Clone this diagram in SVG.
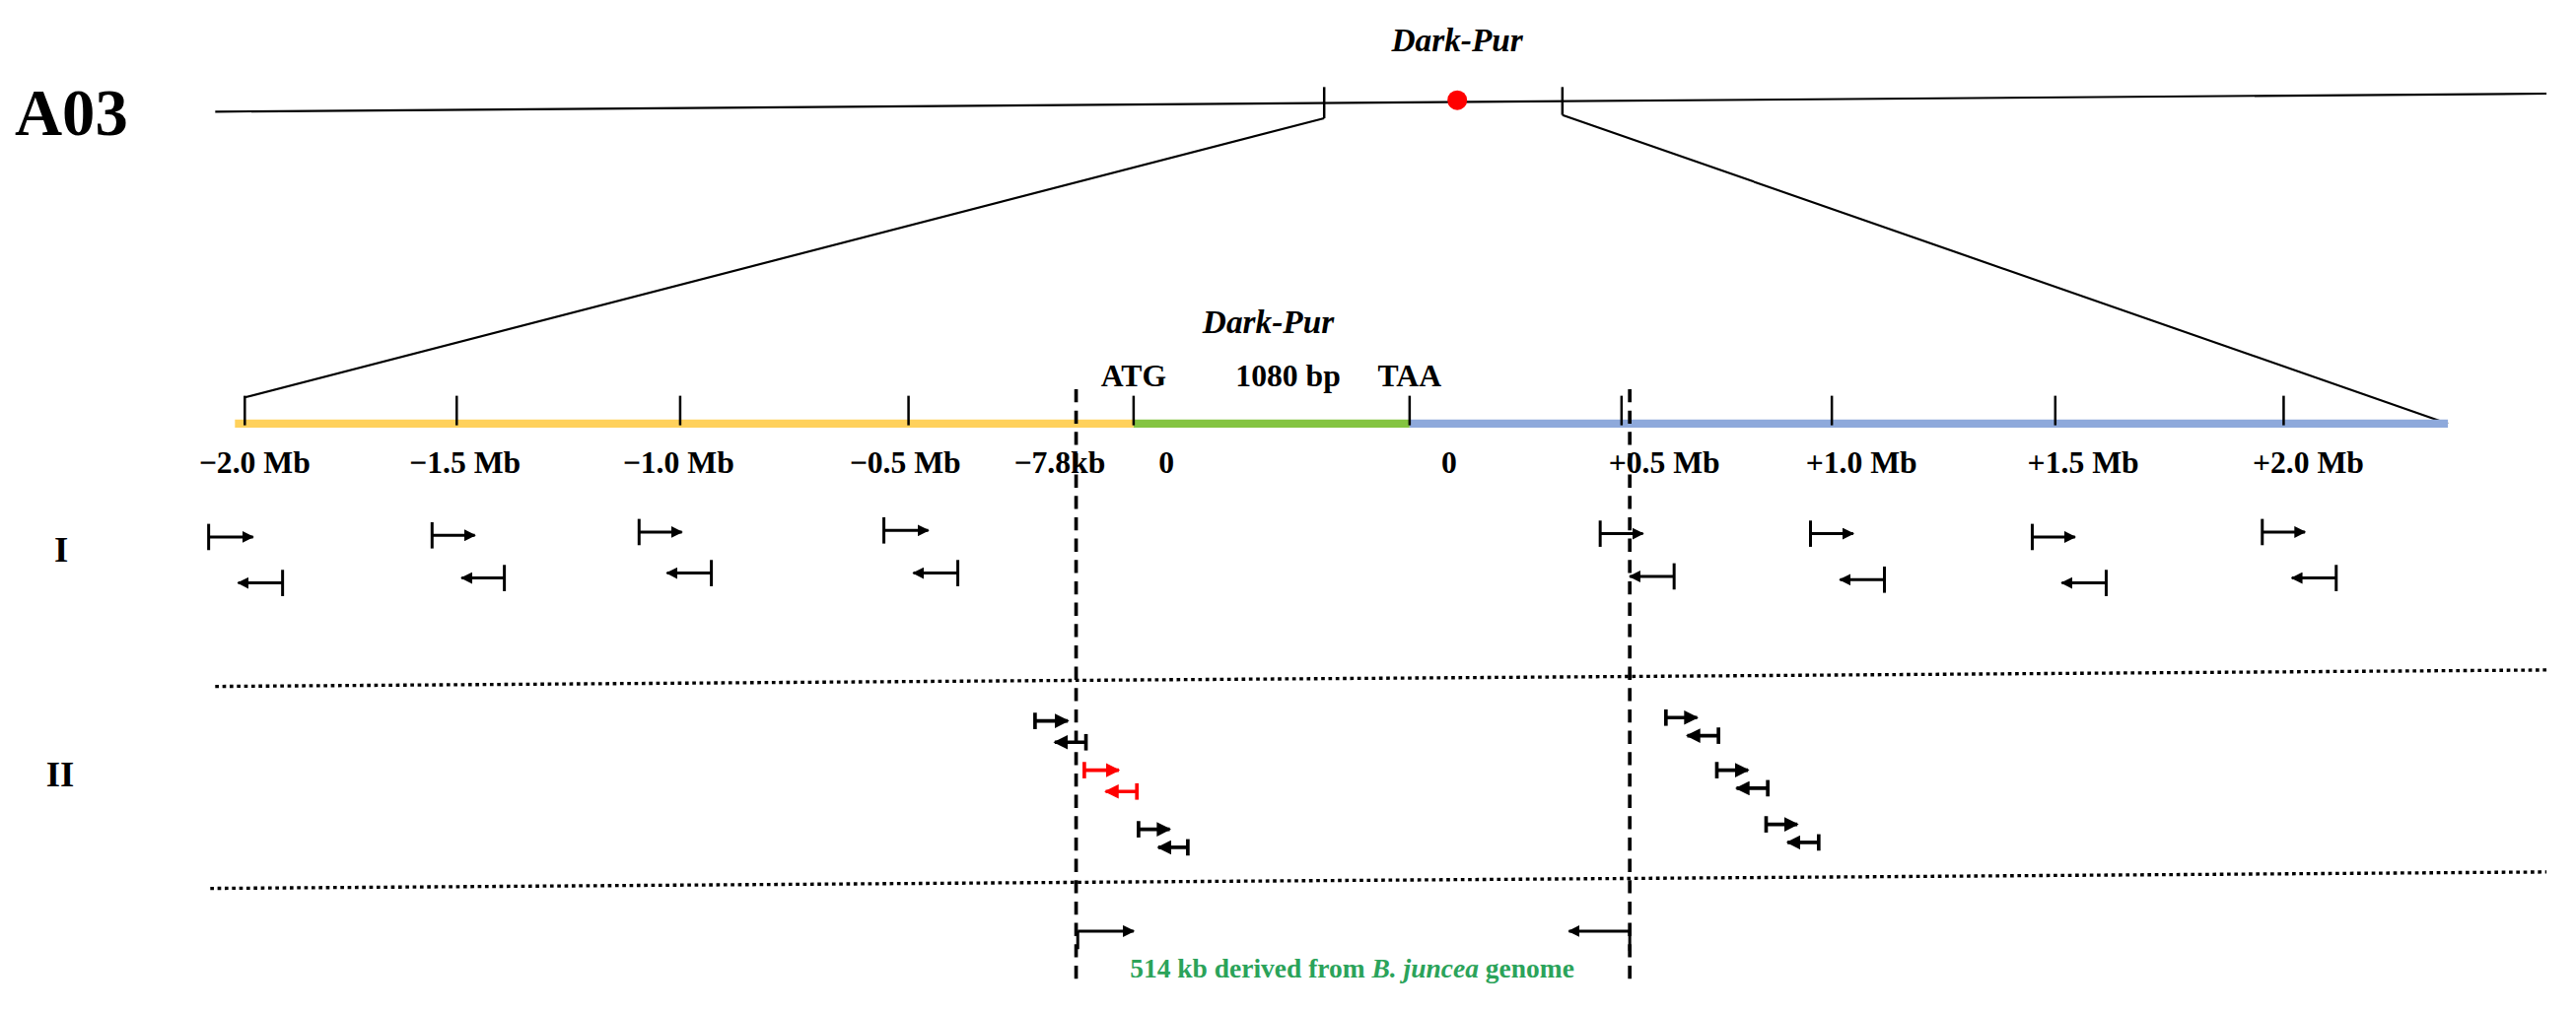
<svg xmlns="http://www.w3.org/2000/svg" width="2613" height="1026" viewBox="0 0 2613 1026">
<defs>
<marker id="ah" viewBox="0 0 10 10" refX="9" refY="5" markerWidth="4" markerHeight="4" markerUnits="strokeWidth" orient="auto"><path d="M0,0 L10,5 L0,10 z" fill="#000"/></marker>
<marker id="ahs" viewBox="0 0 10 10" refX="9" refY="5" markerWidth="4" markerHeight="4" markerUnits="strokeWidth" orient="auto"><path d="M0,0 L10,5 L0,10 z" fill="#000"/></marker>
<marker id="ahr" viewBox="0 0 10 10" refX="9" refY="5" markerWidth="4" markerHeight="4" markerUnits="strokeWidth" orient="auto"><path d="M0,0 L10,5 L0,10 z" fill="#f00"/></marker>
</defs>
<style>
text{font-family:"Liberation Serif","Times New Roman",serif;font-weight:bold;fill:#000}
.lbl{font-size:19px;text-anchor:middle}
.ln{stroke:#000;stroke-width:1.3;fill:none}
.bl{stroke:#000;stroke-width:1.8;fill:none}
.tk{stroke:#000;stroke-width:1.5}
.dash{stroke:#000;stroke-width:2.2;stroke-dasharray:8 5}
.dot{stroke:#000;stroke-width:2;stroke-dasharray:2.2 2.2}
.p{stroke:#000;stroke-width:1.8;fill:none}
.pa{stroke:#000;stroke-width:1.8;marker-end:url(#ah)}
.s{stroke:#000;stroke-width:2.2;fill:none}
.sa{stroke:#000;stroke-width:2.2;marker-end:url(#ahs)}
.r{stroke:#f00;stroke-width:2.2;fill:none}
.ra{stroke:#f00;stroke-width:2.2;marker-end:url(#ahr)}
</style>
<rect width="2613" height="1026" fill="#fff"/>
<g transform="scale(1.6665)">
<g id="chromosome">
<text x="9" y="82" style="font-size:40px">A03</text>
<line class="ln" x1="131" y1="68" x2="1550" y2="57"/>
<line class="tk" x1="806" y1="53" x2="806" y2="72"/>
<line class="tk" x1="951" y1="53" x2="951" y2="70"/>
<circle cx="887" cy="61" r="6" fill="#f00"/>
<text x="887" y="31" class="lbl" style="font-size:20px;font-style:italic">Dark-Pur</text>
</g>
<g id="zoom-lines">
<line class="ln" x1="806" y1="72" x2="149" y2="242"/>
<line class="ln" x1="951" y1="70" x2="1490" y2="258"/>
</g>
<g id="scale-bar">
<line x1="143" y1="258" x2="690" y2="258" stroke="#FFD15C" stroke-width="5"/>
<line x1="690" y1="258" x2="858" y2="258" stroke="#84C441" stroke-width="5"/>
<line x1="858" y1="258" x2="1490" y2="258" stroke="#8EA9DB" stroke-width="5"/>
<g class="tk">
<line x1="149" y1="241" x2="149" y2="259"/><line x1="278" y1="241" x2="278" y2="259"/>
<line x1="414" y1="241" x2="414" y2="259"/><line x1="553" y1="241" x2="553" y2="259"/>
<line x1="690" y1="241" x2="690" y2="259"/><line x1="858" y1="241" x2="858" y2="259"/>
<line x1="987" y1="241" x2="987" y2="259"/><line x1="1115" y1="241" x2="1115" y2="259"/>
<line x1="1251" y1="241" x2="1251" y2="259"/><line x1="1390" y1="241" x2="1390" y2="259"/>
</g>
<text x="772" y="203" class="lbl" style="font-size:20px;font-style:italic">Dark-Pur</text>
<text x="690" y="235" class="lbl">ATG</text>
<text x="784" y="235" class="lbl">1080 bp</text>
<text x="858" y="235" class="lbl">TAA</text>
<text x="155" y="288" class="lbl">−2.0 Mb</text>
<text x="283" y="288" class="lbl">−1.5 Mb</text>
<text x="413" y="288" class="lbl">−1.0 Mb</text>
<text x="551" y="288" class="lbl">−0.5 Mb</text>
<text x="645" y="288" class="lbl">−7.8kb</text>
<text x="710" y="288" class="lbl">0</text>
<text x="882" y="288" class="lbl">0</text>
<text x="1013" y="288" class="lbl">+0.5 Mb</text>
<text x="1133" y="288" class="lbl">+1.0 Mb</text>
<text x="1268" y="288" class="lbl">+1.5 Mb</text>
<text x="1405" y="288" class="lbl">+2.0 Mb</text>
</g>
<g id="row-labels">
<text x="33" y="342" style="font-size:22px">I</text>
<text x="28" y="479" style="font-size:22px">II</text>
</g>
<g id="connectors">
<line class="dash" x1="655" y1="237" x2="655" y2="600"/>
<line class="dash" x1="992" y1="237" x2="992" y2="600"/>
<line class="dot" x1="131" y1="418" x2="1550" y2="408"/>
<line class="dot" x1="128" y1="541" x2="1550" y2="531"/>
</g>
<g id="primers-I">
<path class="p" d="M127,319v16"/><line class="pa" x1="127" y1="327" x2="154" y2="327"/>
<path class="p" d="M172,347v16"/><line class="pa" x1="172" y1="355" x2="145" y2="355"/>
<path class="p" d="M263,318v16"/><line class="pa" x1="263" y1="326" x2="289" y2="326"/>
<path class="p" d="M307,344v16"/><line class="pa" x1="307" y1="352" x2="281" y2="352"/>
<path class="p" d="M389,316v16"/><line class="pa" x1="389" y1="324" x2="415" y2="324"/>
<path class="p" d="M433,341v16"/><line class="pa" x1="433" y1="349" x2="406" y2="349"/>
<path class="p" d="M538,315v16"/><line class="pa" x1="538" y1="323" x2="565" y2="323"/>
<path class="p" d="M583,341v16"/><line class="pa" x1="583" y1="349" x2="556" y2="349"/>
<path class="p" d="M974,317v16"/><line class="pa" x1="974" y1="325" x2="1000" y2="325"/>
<path class="p" d="M1019,343v16"/><line class="pa" x1="1019" y1="351" x2="992" y2="351"/>
<path class="p" d="M1102,317v16"/><line class="pa" x1="1102" y1="325" x2="1128" y2="325"/>
<path class="p" d="M1147,345v16"/><line class="pa" x1="1147" y1="353" x2="1120" y2="353"/>
<path class="p" d="M1237,319v16"/><line class="pa" x1="1237" y1="327" x2="1263" y2="327"/>
<path class="p" d="M1282,347v16"/><line class="pa" x1="1282" y1="355" x2="1255" y2="355"/>
<path class="p" d="M1377,316v16"/><line class="pa" x1="1377" y1="324" x2="1403" y2="324"/>
<path class="p" d="M1422,344v16"/><line class="pa" x1="1422" y1="352" x2="1395" y2="352"/>
</g>
<g id="primers-II">
<path class="s" d="M630,434v10"/><line class="sa" x1="630" y1="439" x2="650" y2="439"/>
<path class="s" d="M661,447v10"/><line class="sa" x1="661" y1="452" x2="642" y2="452"/>
<path class="r" d="M660,464v10"/><line class="ra" x1="660" y1="469" x2="681" y2="469"/>
<path class="r" d="M692,477v10"/><line class="ra" x1="692" y1="482" x2="673" y2="482"/>
<path class="s" d="M693,500v10"/><line class="sa" x1="693" y1="505" x2="712" y2="505"/>
<path class="s" d="M723,511v10"/><line class="sa" x1="723" y1="516" x2="705" y2="516"/>
<path class="s" d="M1014,432v10"/><line class="sa" x1="1014" y1="437" x2="1033" y2="437"/>
<path class="s" d="M1046,443v10"/><line class="sa" x1="1046" y1="448" x2="1027" y2="448"/>
<path class="s" d="M1045,464v10"/><line class="sa" x1="1045" y1="469" x2="1064" y2="469"/>
<path class="s" d="M1076,475v10"/><line class="sa" x1="1076" y1="480" x2="1057" y2="480"/>
<path class="s" d="M1075,497v10"/><line class="sa" x1="1075" y1="502" x2="1094" y2="502"/>
<path class="s" d="M1107,508v10"/><line class="sa" x1="1107" y1="513" x2="1088" y2="513"/>
</g>
<g id="introgression">
<path class="bl" d="M656,578V567"/><line class="bl" x1="656" y1="567" x2="690" y2="567" marker-end="url(#ah)"/>
<path class="bl" d="M992,567V579"/><line class="bl" x1="992" y1="567" x2="955" y2="567" marker-end="url(#ah)"/>
<text x="823" y="595" class="lbl" style="font-size:16.5px;fill:#2BA35A">514 kb derived from <tspan font-style="italic">B. juncea</tspan> genome</text>
</g>
</g>
</svg>
